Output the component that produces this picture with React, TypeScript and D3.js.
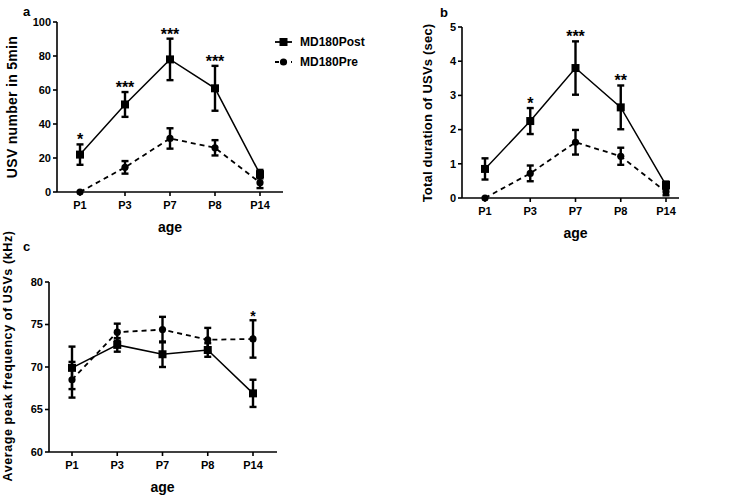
import React from "react";
import * as d3 from "d3";

const categories = ["P1", "P3", "P7", "P8", "P14"];

const usvPost = [22, 51.5, 78, 61, 10.5];
const usvPostErr = [6, 7.3, 12.2, 13.2, 2.5];
const usvPre = [0, 14.5, 31.5, 26, 5.5];
const usvPreErr = [0, 3.7, 6, 4.5, 3.2];
const usvStars = ["*", "***", "***", "***", ""];
const usvTicks = [0, 20, 40, 60, 80, 100];

const durPost = [0.85, 2.25, 3.8, 2.65, 0.38];
const durPostErr = [0.31, 0.38, 0.78, 0.64, 0.1];
const durPre = [0, 0.72, 1.63, 1.22, 0.18];
const durPreErr = [0, 0.23, 0.36, 0.25, 0.1];
const durStars = ["", "*", "***", "**", ""];
const durTicks = [0, 1, 2, 3, 4, 5];

const freqPost = [69.9, 72.6, 71.5, 72.0, 66.9];
const freqPostErr = [2.5, 0.8, 1.5, 0.8, 1.6];
const freqPre = [68.5, 74.1, 74.4, 73.2, 73.3];
const freqPreErr = [2.1, 1.0, 1.5, 1.4, 2.2];
const freqStars = ["", "", "", "", "*"];
const freqTicks = [60, 65, 70, 75, 80];

const seriesNames = ["MD180Post", "MD180Pre"];

const FONT = "'Liberation Sans', Arial, sans-serif";

type PanelProps = {
  letter: string;
  letterPos: [number, number];
  yTitle: string;
  yTitlePos: [number, number];
  axisX: number;
  axisRight: number;
  yTop: number;
  yBottom: number;
  domain: [number, number];
  ticks: number[];
  xFirst: number;
  xLast: number;
  post: number[];
  postErr: number[];
  pre: number[];
  preErr: number[];
  stars: string[];
  starSize: number;
  yTitleSize: number;
  yTitleSpacing: number;
};

function ErrorBar({ x, y1, y2 }: { x: number; y1: number; y2: number }) {
  if (Math.abs(y1 - y2) < 0.5) return null;
  const w = 3.5;
  return (
    <g stroke="#000" strokeWidth={2.4}>
      <line x1={x} x2={x} y1={y1} y2={y2} />
      <line x1={x - w} x2={x + w} y1={y1} y2={y1} />
      <line x1={x - w} x2={x + w} y1={y2} y2={y2} />
    </g>
  );
}

function Panel(p: PanelProps) {
  const x = d3.scalePoint<string>().domain(categories).range([p.xFirst, p.xLast]);
  const y = d3.scaleLinear().domain(p.domain).range([p.yBottom, p.yTop]);
  const line = d3
    .line<number>()
    .x((_, i) => x(categories[i]) as number)
    .y((d) => y(d));
  return (
    <g fontFamily={FONT}>
      <text x={p.letterPos[0]} y={p.letterPos[1]} fontSize={13} fontWeight="bold">
        {p.letter}
      </text>
      <line x1={p.axisX} x2={p.axisX} y1={p.yTop} y2={p.yBottom} stroke="#000" strokeWidth={1.6} />
      <line x1={p.axisX} x2={p.axisRight} y1={p.yBottom} y2={p.yBottom} stroke="#000" strokeWidth={1.6} />
      {p.ticks.map((t) => (
        <g key={t}>
          <line x1={p.axisX - 4} x2={p.axisX} y1={y(t)} y2={y(t)} stroke="#000" strokeWidth={1.6} />
          <text x={p.axisX - 6} y={y(t)} dy="0.35em" textAnchor="end" fontSize={11} fontWeight="bold">
            {t}
          </text>
        </g>
      ))}
      {categories.map((c) => (
        <g key={c}>
          <line
            x1={x(c)}
            x2={x(c)}
            y1={p.yBottom}
            y2={p.yBottom + 4}
            stroke="#000"
            strokeWidth={1.6}
          />
          <text x={x(c)} y={p.yBottom + 17} textAnchor="middle" fontSize={11} fontWeight="bold">
            {c}
          </text>
        </g>
      ))}
      <text
        x={(p.xFirst + p.xLast) / 2}
        y={p.yBottom + 40}
        textAnchor="middle"
        fontSize={14}
        fontWeight="bold"
      >
        age
      </text>
      <text
        transform={`translate(${p.yTitlePos[0]},${p.yTitlePos[1]}) rotate(-90)`}
        textAnchor="middle"
        dominantBaseline="central"
        fontSize={p.yTitleSize}
        fontWeight="bold"
        letterSpacing={p.yTitleSpacing}
      >
        {p.yTitle}
      </text>
      <path d={line(p.post) || ""} fill="none" stroke="#000" strokeWidth={1.5} />
      <path d={line(p.pre) || ""} fill="none" stroke="#000" strokeWidth={1.8} strokeDasharray="5,4" />
      {categories.map((c, i) => (
        <g key={"e" + c}>
          <ErrorBar x={x(c) as number} y1={y(p.post[i] - p.postErr[i])} y2={y(p.post[i] + p.postErr[i])} />
          <ErrorBar x={x(c) as number} y1={y(p.pre[i] - p.preErr[i])} y2={y(p.pre[i] + p.preErr[i])} />
        </g>
      ))}
      {categories.map((c, i) => (
        <g key={"m" + c}>
          <rect x={(x(c) as number) - 4} y={y(p.post[i]) - 4} width={8} height={8} fill="#000" />
          <circle cx={x(c)} cy={y(p.pre[i])} r={3.6} fill="#000" />
        </g>
      ))}
      {categories.map((c, i) => {
        if (!p.stars[i]) return null;
        const hi = Math.max(p.post[i] + p.postErr[i], p.pre[i] + p.preErr[i]);
        return (
          <text
            key={"s" + c}
            x={x(c)}
            y={y(hi) + 1}
            textAnchor="middle"
            fontSize={p.starSize}
            fontWeight="bold"
          >
            {p.stars[i]}
          </text>
        );
      })}
    </g>
  );
}

export default function App() {
  return (
    <svg width={733} height={504} style={{ position: "absolute", left: 0, top: 0, background: "#fff" }}>
      <rect width={733} height={504} fill="#fff" />
      <Panel
        letter="a"
        letterPos={[23, 16]}
        yTitle="USV number in 5min"
        yTitlePos={[12, 107]}
        axisX={57}
        axisRight={283}
        yTop={22}
        yBottom={192}
        domain={[0, 100]}
        ticks={usvTicks}
        xFirst={80}
        xLast={260}
        post={usvPost}
        postErr={usvPostErr}
        pre={usvPre}
        preErr={usvPreErr}
        stars={usvStars}
        starSize={16}
        yTitleSize={14}
        yTitleSpacing={0.3}
      />
      <Panel
        letter="b"
        letterPos={[440, 17]}
        yTitle="Total duration of USVs (sec)"
        yTitlePos={[427, 113]}
        axisX={462}
        axisRight={679}
        yTop={27}
        yBottom={198}
        domain={[0, 5]}
        ticks={durTicks}
        xFirst={485}
        xLast={666}
        post={durPost}
        postErr={durPostErr}
        pre={durPre}
        preErr={durPreErr}
        stars={durStars}
        starSize={16}
        yTitleSize={13}
        yTitleSpacing={0.2}
      />
      <Panel
        letter="c"
        letterPos={[23, 251]}
        yTitle="Average peak frequency of USVs  (kHz)"
        yTitlePos={[8, 356]}
        axisX={49}
        axisRight={277}
        yTop={282}
        yBottom={452}
        domain={[60, 80]}
        ticks={freqTicks}
        xFirst={72}
        xLast={253}
        post={freqPost}
        postErr={freqPostErr}
        pre={freqPre}
        preErr={freqPreErr}
        stars={freqStars}
        starSize={14}
        yTitleSize={12.5}
        yTitleSpacing={0.6}
      />
      <g fontFamily={FONT}>
        <line x1={275} x2={292} y1={42} y2={42} stroke="#000" strokeWidth={1.8} />
        <rect x={279.5} y={38} width={8} height={8} fill="#000" />
        <text x={300} y={42} dy="0.35em" fontSize={12} fontWeight="bold">
          {seriesNames[0]}
        </text>
        <line x1={275} x2={292} y1={62} y2={62} stroke="#000" strokeWidth={1.8} strokeDasharray="4,4" />
        <circle cx={283.5} cy={62} r={3.6} fill="#000" />
        <text x={300} y={62} dy="0.35em" fontSize={12} fontWeight="bold">
          {seriesNames[1]}
        </text>
      </g>
    </svg>
  );
}
